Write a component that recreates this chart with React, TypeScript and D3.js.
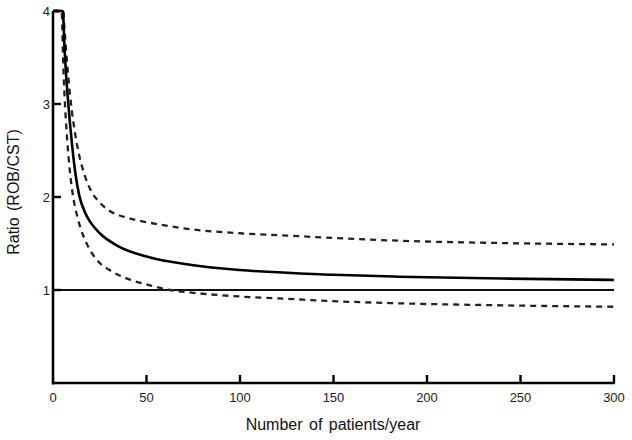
import React from "react";
import * as d3 from "d3";

// Number of patients per year (x) and ratio ROB/CST (y)
const meanPatients = [0, 5.3, 6, 7, 8.2, 10, 12, 14, 17, 20, 25, 35, 50, 75, 100, 150, 185, 240, 300];
const ratioMean = [4, 4, 3.67, 3.32, 3.0, 2.6, 2.25, 2.02, 1.84, 1.73, 1.61, 1.47, 1.36, 1.267, 1.215, 1.164, 1.143, 1.123, 1.108];

const upperPatients = [0, 5.5, 6, 7, 8, 9, 10, 12, 14, 17, 20, 25, 30, 40, 50, 62.5, 75, 100, 125, 150, 185, 240, 300];
const ratioUpper = [4, 4, 3.85, 3.58, 3.33, 3.12, 2.94, 2.66, 2.45, 2.23, 2.08, 1.94, 1.855, 1.775, 1.73, 1.685, 1.65, 1.61, 1.585, 1.56, 1.53, 1.505, 1.49];

const lowerPatients = [0, 4.6, 5.5, 6.5, 7.5, 9, 10.8, 13, 15, 18, 21, 25, 30, 40, 51.8, 62.5, 75, 100, 125, 150, 185, 240, 300];
const ratioLower = [4, 4, 3.41, 2.96, 2.64, 2.28, 2.0, 1.79, 1.65, 1.5, 1.39, 1.29, 1.217, 1.12, 1.05, 1.0, 0.97, 0.93, 0.905, 0.88, 0.857, 0.835, 0.82];

const referenceRatio = 1;

const xTicks = [0, 50, 100, 150, 200, 250, 300];
const yTicks = [1, 2, 3, 4];
const xTitle = "Number of patients/year";
const yTitle = "Ratio (ROB/CST)";

export default function App() {
  const x = d3.scaleLinear().domain([0, 300]).range([53, 614]);
  const y = d3.scaleLinear().domain([0, 4]).range([383, 11]);
  const makeLine = (xs: number[]) =>
    d3
      .line<number>()
      .x((_, i) => x(xs[i]))
      .y((d) => y(d))
      .curve(d3.curveMonotoneX);

  const font = "'Liberation Sans', Arial, Helvetica, sans-serif";

  return (
    <svg
      width={632}
      height={440}
      style={{ position: "absolute", left: 0, top: 0, background: "#fff" }}
    >
      <rect width={632} height={440} fill="#fff" />
      {/* reference line at ratio 1 */}
      <line
        x1={x(0)}
        x2={x(300)}
        y1={y(referenceRatio)}
        y2={y(referenceRatio)}
        stroke="#111"
        strokeWidth={2}
      />
      {/* curves */}
      <path d={makeLine(upperPatients)(ratioUpper) || ""} fill="none" stroke="#222" strokeWidth={2.3} strokeDasharray="6,5" />
      <path d={makeLine(lowerPatients)(ratioLower) || ""} fill="none" stroke="#222" strokeWidth={2.3} strokeDasharray="6,5" />
      <path d={makeLine(meanPatients)(ratioMean) || ""} fill="none" stroke="#000" strokeWidth={2.6} />

      {/* axes */}
      <line x1={x(0)} x2={x(0)} y1={y(4)} y2={y(0) + 1.5} stroke="#000" strokeWidth={2.6} />
      <line x1={x(0)} x2={x(300) + 1} y1={y(0)} y2={y(0)} stroke="#000" strokeWidth={2.6} />
      {xTicks.filter((t) => t > 0).map((t) => (
        <line key={"xt" + t} x1={x(t)} x2={x(t)} y1={y(0)} y2={y(0) - 8} stroke="#000" strokeWidth={2.4} />
      ))}
      {yTicks.map((t) => (
        <line key={"yt" + t} x1={x(0)} x2={x(0) + 8} y1={y(t)} y2={y(t)} stroke="#000" strokeWidth={2.4} />
      ))}
      {xTicks.map((t) => (
        <text
          key={"xl" + t}
          x={x(t)}
          y={402}
          textAnchor="middle"
          fontFamily={font}
          fontSize={13}
          fill="#222"
        >
          {t}
        </text>
      ))}
      {yTicks.map((t) => (
        <text
          key={"yl" + t}
          x={50}
          y={y(t) + 4.5}
          textAnchor="end"
          fontFamily={font}
          fontSize={13}
          fill="#222"
        >
          {t}
        </text>
      ))}
      <text
        x={333}
        y={430}
        textAnchor="middle"
        fontFamily={font}
        fontSize={16}
        wordSpacing={2}
        fill="#111"
      >
        {xTitle}
      </text>
      <text
        transform={`translate(19, 192) rotate(-90)`}
        textAnchor="middle"
        fontFamily={font}
        fontSize={16}
        wordSpacing={2}
        fill="#111"
      >
        {yTitle}
      </text>
    </svg>
  );
}
